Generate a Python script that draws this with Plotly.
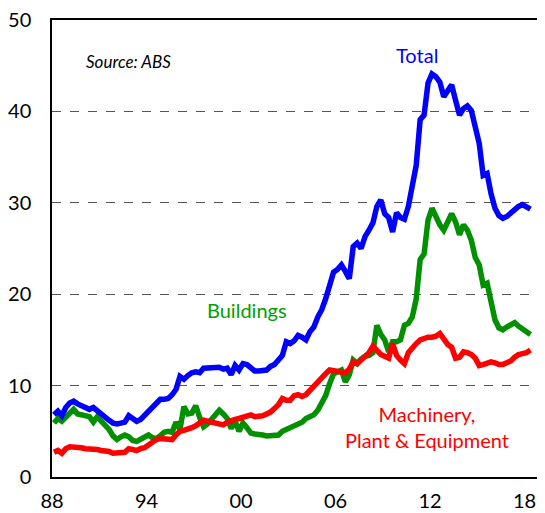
import plotly.graph_objects as go

# Quarterly data, 1988Q1 .. 2018Q2 (per cent)
total = [
    6.8, 7.2, 6.7, 7.6,      # 1988
    8.1, 8.3, 8.0, 7.8,      # 1989
    7.7, 7.4, 7.6, 7.2,      # 1990
    6.9, 6.5, 6.2, 5.9,      # 1991
    5.8, 5.9, 6.0, 6.7,      # 1992
    6.4, 6.1, 6.3, 6.7,      # 1993
    7.1, 7.6, 8.1, 8.5,      # 1994
    8.5, 8.6, 9.0, 9.6,      # 1995
    11.0, 10.7, 11.1, 11.4,  # 1996
    11.5, 11.4, 11.9, 11.9,  # 1997
    12.0, 11.9, 12.0, 11.8,  # 1998
    11.9, 11.2, 12.2, 11.7,  # 1999
    12.4, 12.3, 11.9, 11.6,  # 2000
    11.6, 11.6, 11.7, 12.1,  # 2001
    12.3, 12.8, 13.3, 14.8,  # 2002
    14.6, 14.9, 15.5, 15.3,  # 2003
    15.0, 15.9, 16.4, 17.5,  # 2004
    18.3, 19.5, 21.0, 22.4,  # 2005
    22.7, 23.2, 22.5, 21.7,  # 2006
    25.2, 25.6, 25.0, 26.3,  # 2007
    27.0, 27.8, 29.6, 30.3,  # 2008
    28.8, 28.4, 26.8, 28.9,  # 2009
    28.4, 28.2, 29.6, 31.8,  # 2010
    34.1, 39.1, 39.6, 43.1,  # 2011
    44.1, 43.8, 43.2, 41.6,  # 2012
    42.3, 42.9, 41.2, 39.6,  # 2013
    40.3, 40.6, 40.1, 38.0,  # 2014
    36.5, 33.0, 33.2, 31.0,  # 2015
    29.4, 28.6, 28.3, 28.5,  # 2016
    28.9, 29.4, 29.6, 29.8,  # 2017
    29.5, 29.3,              # 2018
]

buildings = [
    5.9, 6.4, 6.1, 6.5,      # 1988
    7.0, 7.4, 6.9, 6.8,      # 1989
    6.7, 6.6, 6.0, 6.6,      # 1990
    6.1, 5.7, 5.2, 4.5,      # 1991
    4.1, 4.4, 4.6, 4.4,      # 1992
    4.0, 3.9, 4.1, 4.4,      # 1993
    4.6, 4.3, 4.2, 4.5,      # 1994
    4.9, 5.0, 4.9, 6.0,      # 1995
    5.2, 7.7, 6.9, 7.0,      # 1996
    7.8, 6.5, 5.5, 5.8,      # 1997
    6.3, 6.9, 7.3, 6.9,      # 1998
    6.4, 5.3, 6.1, 5.0,      # 1999
    5.9, 5.4, 4.8, 4.7,      # 2000
    4.7, 4.6, 4.5, 4.5,      # 2001
    4.5, 4.6, 5.0, 5.2,      # 2002
    5.5, 5.7, 5.9, 6.0,      # 2003
    6.4, 6.6, 6.8, 7.3,      # 2004
    8.0, 8.9, 10.2, 11.3,    # 2005
    11.5, 11.7, 10.4, 11.2,  # 2006
    12.8, 12.4, 12.9, 13.2,  # 2007
    13.3, 13.6, 16.6, 15.6,  # 2008
    15.0, 13.7, 14.8, 14.8,  # 2009
    15.0, 16.6, 16.8, 17.5,  # 2010
    19.5, 23.8, 24.4, 28.1,  # 2011
    29.4, 28.3, 27.6, 27.0,  # 2012
    27.8, 28.8, 27.9, 26.5,  # 2013
    27.6, 27.0, 25.9, 24.0,  # 2014
    23.2, 21.0, 21.2, 19.4,  # 2015
    17.2, 16.3, 16.1, 16.4,  # 2016
    16.6, 16.9, 16.5, 16.2,  # 2017
    16.0, 15.6,              # 2018
]

machinery = [
    2.7, 2.9, 2.6, 3.1,      # 1988
    3.3, 3.3, 3.3, 3.2,      # 1989
    3.1, 3.1, 3.0, 3.0,      # 1990
    2.9, 2.9, 2.8, 2.6,      # 1991
    2.6, 2.6, 2.7, 3.1,      # 1992
    3.0, 2.9, 3.1, 3.2,      # 1993
    3.5, 3.8, 4.1, 4.2,      # 1994
    4.2, 4.2, 4.1, 4.6,      # 1995
    5.0, 5.1, 5.2, 5.4,      # 1996
    5.6, 5.9, 6.2, 6.1,      # 1997
    6.0, 5.9, 5.8, 5.7,      # 1998
    6.0, 6.2, 6.3, 6.4,      # 1999
    6.5, 6.7, 6.8, 6.6,      # 2000
    6.6, 6.7, 6.9, 7.1,      # 2001
    7.5, 7.9, 8.6, 8.4,      # 2002
    8.4, 8.9, 9.0, 8.8,      # 2003
    9.0, 9.5, 9.8, 10.4,     # 2004
    10.9, 11.3, 11.7, 11.6,  # 2005
    11.5, 11.5, 11.4, 11.8,  # 2006
    12.6, 12.4, 12.8, 13.4,  # 2007
    13.6, 14.3, 13.8, 13.4,  # 2008
    13.2, 13.0, 14.6, 13.3,  # 2009
    12.8, 12.4, 13.6, 14.2,  # 2010
    14.6, 15.0, 15.2, 15.3,  # 2011
    15.3, 15.4, 15.7, 15.0,  # 2012
    14.5, 14.2, 13.0, 13.1,  # 2013
    13.7, 13.6, 13.4, 13.0,  # 2014
    12.2, 12.3, 12.4, 12.6,  # 2015
    12.5, 12.3, 12.3, 12.5,  # 2016
    12.7, 13.1, 13.4, 13.5,  # 2017
    13.6, 13.9,              # 2018
]

start_year = 1988
tick_years = [1988, 1994, 2000, 2006, 2012, 2018]
tick_labels = ["88", "94", "00", "06", "12", "18"]
y_ticks = [0, 10, 20, 30, 40, 50]

n = len(total)
assert n == len(buildings) == len(machinery)
# mid-quarter positions in decimal years
x = [start_year + (i + 0.5) / 4 for i in range(n)]

BLUE = "#0000FF"
GREEN = "#009000"
RED = "#FF0000"
FONT = "Lato, Carlito, 'Open Sans', sans-serif"

fig = go.Figure()
fig.add_trace(go.Scatter(x=x, y=buildings, mode="lines", name="Buildings",
                         line=dict(color=GREEN, width=5.5)))
fig.add_trace(go.Scatter(x=x, y=machinery, mode="lines", name="Machinery, Plant & Equipment",
                         line=dict(color=RED, width=5.5)))
fig.add_trace(go.Scatter(x=x, y=total, mode="lines", name="Total",
                         line=dict(color=BLUE, width=5.5)))

# The page body has an 8px margin, so the figure is drawn 8px right and down.
fig.update_layout(
    width=545, height=513,
    margin=dict(l=44, r=8, t=12, b=44, autoexpand=False),
    paper_bgcolor="white", plot_bgcolor="white",
    showlegend=False,
    font=dict(family=FONT, color="black"),
    xaxis=dict(
        range=[1988, 1988 + 493 / 15.75],
        tickvals=tick_years, ticktext=tick_labels,
        showgrid=False, zeroline=False, automargin=False,
        showline=True, mirror=True, linecolor="black", linewidth=1.5,
        ticks="", tickfont=dict(size=20, family=FONT),
        ticklabelstandoff=5, ticklabeloverflow="allow",
    ),
    yaxis=dict(
        range=[0, 50], tickvals=y_ticks, automargin=False,
        showgrid=True, gridcolor="#555555", gridwidth=1, griddash="dash",
        zeroline=False,
        showline=True, linecolor="black", linewidth=1.5,
        ticks="", tickfont=dict(size=20, family=FONT),
        ticklabelstandoff=15, ticklabeloverflow="allow",
    ),
    annotations=[
        dict(text="<i>Source: ABS</i>", xref="paper", yref="y", x=0.065, y=45.5,
             xanchor="left", yanchor="middle", showarrow=False,
             font=dict(size=17, color="black", family=FONT)),
        dict(text="Total", xref="x", yref="y", x=2011.2, y=46.2,
             showarrow=False, font=dict(size=20, color=BLUE, family=FONT)),
        dict(text="Buildings", xref="x", yref="y", x=2000.4, y=18.3,
             showarrow=False, font=dict(size=20, color="#00A000", family=FONT)),
        dict(text="Machinery,<br>Plant & Equipment", xref="x", yref="y",
             x=2011.8, y=5.5, showarrow=False, align="center",
             font=dict(size=20, color=RED, family=FONT)),
    ],
)

fig.write_html("out.html")
